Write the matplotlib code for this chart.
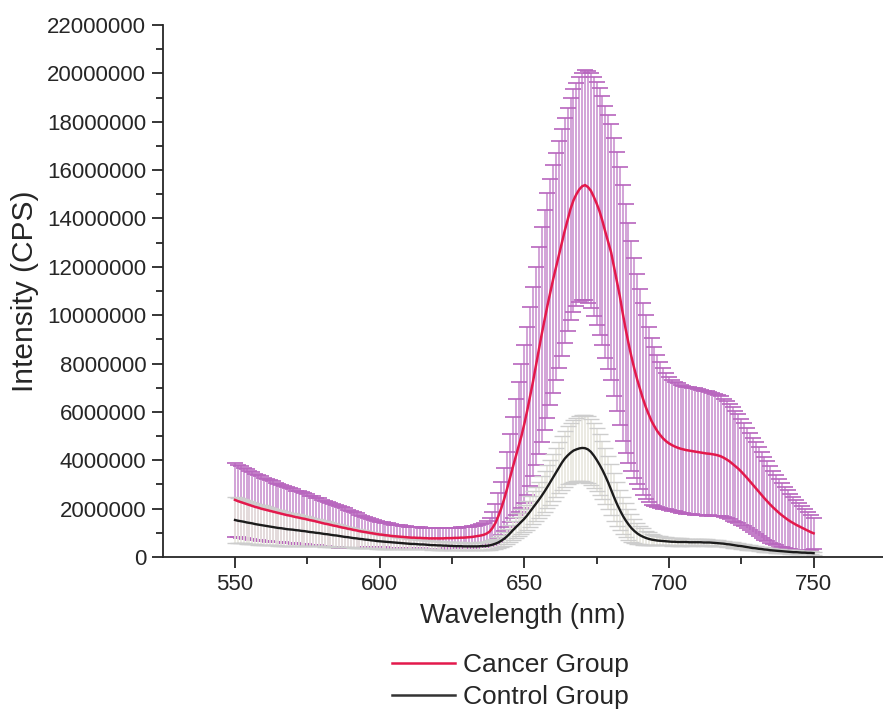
import numpy as np
import matplotlib
matplotlib.use("Agg")
import matplotlib.pyplot as plt
from matplotlib.ticker import MultipleLocator, FuncFormatter
from matplotlib.lines import Line2D

plt.rcParams['font.family'] = ['Liberation Sans', 'DejaVu Sans']

# Emission spectra, 550-750 nm in 1 nm steps; intensities in millions of CPS
wavelength = np.arange(550, 751)

cancer_mean = [
    2.36, 2.31, 2.27, 2.23, 2.19, 2.15, 2.11, 2.07, 2.04, 2.00,
    1.97, 1.94, 1.91, 1.88, 1.85, 1.82, 1.79, 1.76, 1.73, 1.71,
    1.68, 1.65, 1.63, 1.60, 1.58, 1.55, 1.52, 1.50, 1.47, 1.44,
    1.41, 1.38, 1.36, 1.33, 1.30, 1.28, 1.25, 1.22, 1.20, 1.17,
    1.15, 1.12, 1.10, 1.07, 1.05, 1.03, 1.01, 0.99, 0.97, 0.95,
    0.93, 0.92, 0.90, 0.89, 0.87, 0.86, 0.85, 0.84, 0.83, 0.82,
    0.81, 0.80, 0.80, 0.79, 0.79, 0.78, 0.78, 0.77, 0.77, 0.77,
    0.77, 0.77, 0.77, 0.78, 0.78, 0.78, 0.79, 0.79, 0.80, 0.80,
    0.81, 0.82, 0.83, 0.85, 0.87, 0.89, 0.92, 0.97, 1.05, 1.20,
    1.40, 1.68, 2.00, 2.38, 2.80, 3.25, 3.70, 4.13, 4.55, 5.00,
    5.50, 6.05, 6.65, 7.25, 7.90, 8.55, 9.20, 9.80, 10.40, 10.95,
    11.50, 12.00, 12.50, 13.00, 13.50, 13.95, 14.40, 14.75, 15.00, 15.20,
    15.33, 15.38, 15.30, 15.15, 14.90, 14.62, 14.30, 13.90, 13.45, 13.02,
    12.60, 12.00, 11.40, 10.80, 10.10, 9.45, 8.85, 8.30, 7.80, 7.35,
    6.95, 6.55, 6.20, 5.90, 5.62, 5.40, 5.20, 5.04, 4.90, 4.79,
    4.70, 4.63, 4.57, 4.52, 4.48, 4.45, 4.42, 4.40, 4.38, 4.36,
    4.34, 4.32, 4.30, 4.28, 4.27, 4.25, 4.23, 4.20, 4.16, 4.10,
    4.03, 3.95, 3.85, 3.75, 3.65, 3.53, 3.40, 3.27, 3.13, 2.99,
    2.85, 2.71, 2.57, 2.43, 2.30, 2.17, 2.05, 1.94, 1.83, 1.73,
    1.64, 1.55, 1.47, 1.40, 1.33, 1.27, 1.21, 1.15, 1.09, 1.03,
    0.98,
]

cancer_sd = [
    1.52, 1.50, 1.48, 1.45, 1.43, 1.41, 1.39, 1.37, 1.35, 1.33,
    1.31, 1.29, 1.27, 1.25, 1.23, 1.21, 1.19, 1.17, 1.15, 1.14,
    1.12, 1.10, 1.09, 1.07, 1.06, 1.04, 1.02, 1.01, 0.99, 0.98,
    0.96, 0.94, 0.93, 0.91, 0.90, 0.88, 0.86, 0.83, 0.81, 0.78,
    0.76, 0.73, 0.71, 0.68, 0.66, 0.63, 0.61, 0.59, 0.57, 0.55,
    0.53, 0.52, 0.51, 0.50, 0.49, 0.48, 0.47, 0.47, 0.46, 0.46,
    0.45, 0.45, 0.44, 0.44, 0.43, 0.43, 0.43, 0.43, 0.42, 0.42,
    0.42, 0.42, 0.42, 0.42, 0.42, 0.42, 0.42, 0.42, 0.43, 0.43,
    0.43, 0.44, 0.44, 0.45, 0.46, 0.47, 0.49, 0.52, 0.56, 0.66,
    0.80, 0.95, 1.10, 1.32, 1.55, 1.82, 2.10, 2.40, 2.70, 2.98,
    3.25, 3.48, 3.70, 3.90, 4.10, 4.28, 4.45, 4.56, 4.65, 4.68,
    4.70, 4.70, 4.70, 4.68, 4.65, 4.62, 4.60, 4.60, 4.60, 4.64,
    4.70, 4.75, 4.80, 4.87, 4.95, 5.02, 5.10, 5.15, 5.20, 5.25,
    5.30, 5.33, 5.35, 5.33, 5.30, 5.15, 4.95, 4.75, 4.55, 4.35,
    4.15, 3.97, 3.80, 3.62, 3.45, 3.30, 3.15, 3.02, 2.90, 2.82,
    2.75, 2.71, 2.68, 2.66, 2.65, 2.64, 2.63, 2.63, 2.62, 2.61,
    2.60, 2.59, 2.58, 2.57, 2.55, 2.54, 2.52, 2.50, 2.48, 2.45,
    2.42, 2.39, 2.35, 2.30, 2.25, 2.19, 2.13, 2.07, 2.00, 1.95,
    1.90, 1.84, 1.78, 1.72, 1.65, 1.58, 1.52, 1.46, 1.40, 1.33,
    1.27, 1.21, 1.15, 1.09, 1.03, 0.97, 0.91, 0.85, 0.78, 0.72,
    0.65,
]

control_mean = [
    1.53, 1.50, 1.48, 1.46, 1.43, 1.41, 1.39, 1.36, 1.34, 1.32,
    1.30, 1.28, 1.26, 1.24, 1.22, 1.20, 1.19, 1.17, 1.15, 1.14,
    1.13, 1.11, 1.10, 1.08, 1.07, 1.05, 1.03, 1.02, 1.00, 0.99,
    0.97, 0.95, 0.94, 0.92, 0.90, 0.89, 0.87, 0.85, 0.83, 0.82,
    0.80, 0.78, 0.77, 0.75, 0.74, 0.72, 0.71, 0.69, 0.68, 0.66,
    0.65, 0.64, 0.63, 0.62, 0.61, 0.60, 0.59, 0.58, 0.57, 0.56,
    0.55, 0.54, 0.54, 0.53, 0.52, 0.52, 0.51, 0.50, 0.49, 0.49,
    0.48, 0.48, 0.47, 0.47, 0.46, 0.46, 0.45, 0.45, 0.45, 0.44,
    0.44, 0.44, 0.44, 0.44, 0.44, 0.45, 0.45, 0.46, 0.48, 0.51,
    0.55, 0.60, 0.67, 0.75, 0.85, 0.97, 1.10, 1.22, 1.34, 1.46,
    1.58, 1.72, 1.88, 2.04, 2.20, 2.36, 2.53, 2.71, 2.90, 3.10,
    3.30, 3.50, 3.70, 3.90, 4.07, 4.20, 4.31, 4.40, 4.45, 4.49,
    4.51, 4.50, 4.45, 4.35, 4.20, 4.02, 3.82, 3.60, 3.35, 3.08,
    2.78, 2.48, 2.20, 1.95, 1.72, 1.52, 1.35, 1.20, 1.08, 0.98,
    0.90, 0.84, 0.79, 0.75, 0.72, 0.70, 0.68, 0.67, 0.66, 0.65,
    0.64, 0.63, 0.63, 0.62, 0.62, 0.62, 0.62, 0.61, 0.61, 0.61,
    0.61, 0.61, 0.60, 0.60, 0.60, 0.59, 0.58, 0.57, 0.56, 0.55,
    0.53, 0.52, 0.50, 0.48, 0.46, 0.45, 0.43, 0.41, 0.39, 0.37,
    0.36, 0.34, 0.33, 0.31, 0.30, 0.28, 0.27, 0.26, 0.25, 0.24,
    0.23, 0.22, 0.21, 0.20, 0.20, 0.19, 0.18, 0.18, 0.17, 0.17,
    0.16,
]

control_sd = [
    0.95, 0.93, 0.92, 0.90, 0.89, 0.87, 0.86, 0.84, 0.83, 0.81,
    0.80, 0.79, 0.77, 0.76, 0.74, 0.73, 0.72, 0.70, 0.69, 0.67,
    0.66, 0.65, 0.64, 0.62, 0.61, 0.60, 0.59, 0.57, 0.56, 0.54,
    0.53, 0.52, 0.50, 0.49, 0.47, 0.46, 0.45, 0.43, 0.42, 0.41,
    0.40, 0.39, 0.38, 0.37, 0.36, 0.35, 0.34, 0.33, 0.32, 0.31,
    0.30, 0.29, 0.28, 0.27, 0.27, 0.26, 0.25, 0.24, 0.23, 0.23,
    0.22, 0.21, 0.21, 0.20, 0.20, 0.19, 0.19, 0.18, 0.18, 0.17,
    0.17, 0.17, 0.16, 0.16, 0.16, 0.15, 0.15, 0.15, 0.15, 0.15,
    0.15, 0.15, 0.15, 0.15, 0.16, 0.16, 0.16, 0.17, 0.18, 0.19,
    0.20, 0.22, 0.25, 0.28, 0.32, 0.35, 0.39, 0.43, 0.47, 0.51,
    0.55, 0.59, 0.63, 0.67, 0.71, 0.75, 0.80, 0.84, 0.89, 0.93,
    0.98, 1.02, 1.07, 1.11, 1.16, 1.20, 1.24, 1.28, 1.31, 1.34,
    1.37, 1.38, 1.38, 1.37, 1.34, 1.30, 1.26, 1.20, 1.15, 1.10,
    1.05, 0.98, 0.91, 0.84, 0.77, 0.70, 0.63, 0.56, 0.49, 0.43,
    0.38, 0.34, 0.30, 0.27, 0.24, 0.22, 0.20, 0.19, 0.18, 0.17,
    0.16, 0.16, 0.15, 0.15, 0.15, 0.14, 0.14, 0.14, 0.14, 0.13,
    0.13, 0.13, 0.13, 0.13, 0.12, 0.12, 0.12, 0.12, 0.12, 0.11,
    0.11, 0.11, 0.11, 0.11, 0.10, 0.10, 0.10, 0.10, 0.10, 0.09,
    0.09, 0.09, 0.09, 0.09, 0.08, 0.08, 0.08, 0.08, 0.08, 0.07,
    0.07, 0.07, 0.07, 0.07, 0.07, 0.06, 0.06, 0.06, 0.06, 0.06,
    0.06,
]

series_labels = ["Cancer Group", "Control Group"]
y_ticks = [0, 2000000, 4000000, 6000000, 8000000, 10000000, 12000000,
           14000000, 16000000, 18000000, 20000000, 22000000]
x_ticks = [550, 600, 650, 700, 750]

SCALE = 1e6
cm = np.array(cancer_mean) * SCALE
cs = np.array(cancer_sd) * SCALE
km = np.array(control_mean) * SCALE
ks = np.array(control_sd) * SCALE

RED = '#e3194c'
BLACK = '#1c1c1c'
INK = '#262626'

fig = plt.figure(figsize=(8.83, 7.11), dpi=100)
ax = fig.add_axes([163 / 883, 1 - 557 / 711, (883 - 163) / 883, (557 - 25) / 711])

# cancer group error bars (drawn first, partly covered by the control bars)
_, caps, bars = ax.errorbar(wavelength, cm, yerr=cs, fmt='none',
                            ecolor='#cf9cd4', elinewidth=1.3,
                            capsize=6.0, capthick=1.2, zorder=1)
for c in caps:
    c.set_markeredgecolor('#b865be')

# control group error bars
_, caps2, bars2 = ax.errorbar(wavelength, km, yerr=ks, fmt='none',
                              ecolor='#e8e6de', elinewidth=1.2,
                              capsize=6.0, capthick=1.0, zorder=2)
for c in caps2:
    c.set_markeredgecolor('#cdcdcd')

ax.plot(wavelength, cm, color=RED, lw=1.8, zorder=4)
ax.plot(wavelength, km, color=BLACK, lw=1.7, zorder=5)

ax.set_xlim(525.1, 774.0)
ax.set_ylim(0, 22000000)
ax.set_xticks(x_ticks)
ax.set_yticks(y_ticks)
ax.xaxis.set_minor_locator(MultipleLocator(25))
ax.yaxis.set_minor_locator(MultipleLocator(1000000))
ax.yaxis.set_major_formatter(FuncFormatter(lambda v, p: f"{int(round(v))}"))

for side in ('top', 'right'):
    ax.spines[side].set_visible(False)
for side in ('left', 'bottom'):
    ax.spines[side].set_linewidth(1.3)
    ax.spines[side].set_color(INK)

ax.tick_params(which='major', direction='out', length=8, width=1.3,
               color=INK, labelsize=16, labelcolor=INK, pad=4)
ax.tick_params(which='minor', direction='out', length=5, width=1.3,
               color=INK)

ax.set_xlabel("Wavelength (nm)", fontsize=19.5, color=INK, labelpad=6)
ax.set_ylabel("Intensity (CPS)", fontsize=21.5, color=INK, labelpad=6)

handles = [Line2D([], [], color=RED, lw=1.8), Line2D([], [], color='#333333', lw=1.8)]
fig.legend(handles, series_labels, loc='upper left',
           bbox_to_anchor=(392 / 883, 1 - 653 / 711), frameon=False,
           fontsize=19, handlelength=2.4, handletextpad=0.3,
           labelspacing=0.3, borderpad=0, borderaxespad=0,
           labelcolor=INK)

fig.savefig("out.png", dpi=100)
